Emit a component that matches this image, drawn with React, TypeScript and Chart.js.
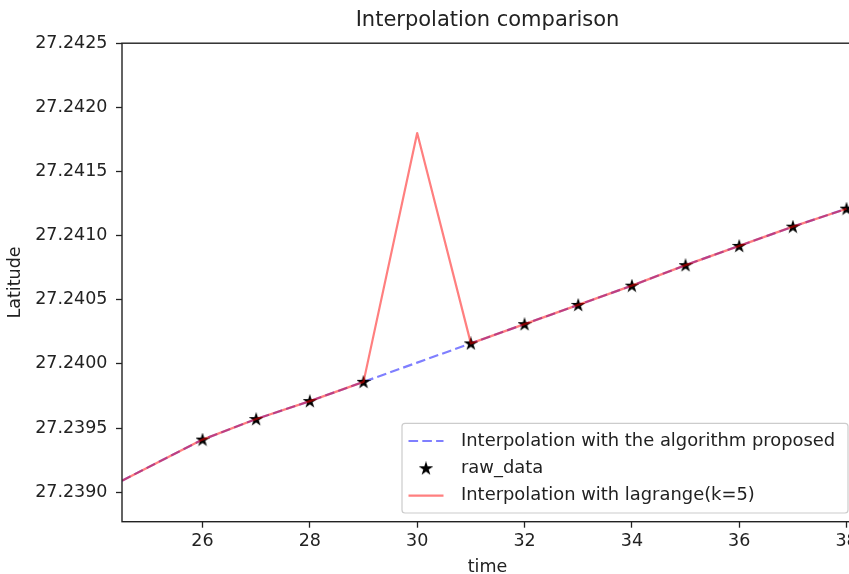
import React, { useEffect, useRef } from "react";
import { Chart, registerables } from "chart.js";

Chart.register(...registerables);

// ---- data ----
const lineTimes = [24.5, 26, 27, 28, 29, 30, 31, 32, 33, 34, 35, 36, 37, 38];
const proposedValues = [
  27.23909, 27.23941, 27.23957, 27.23971, 27.23986, 27.24001, 27.24016,
  27.24031, 27.24046, 27.24061, 27.24077, 27.24092, 27.24107, 27.24121,
];
const lagrangeValues = [
  27.23909, 27.23941, 27.23957, 27.23971, 27.23986, 27.2418, 27.24016,
  27.24031, 27.24046, 27.24061, 27.24077, 27.24092, 27.24107, 27.24121,
];
const rawTimes = [26, 27, 28, 29, 31, 32, 33, 34, 35, 36, 37, 38];
const rawValues = [
  27.23941, 27.23957, 27.23971, 27.23986, 27.24016, 27.24031, 27.24046,
  27.24061, 27.24077, 27.24092, 27.24107, 27.24121,
];
const xTicks = [26, 28, 30, 32, 34, 36, 38];
const yTicks = [27.239, 27.2395, 27.24, 27.2405, 27.241, 27.2415, 27.242, 27.2425];

const titleText = "Interpolation comparison";
const xLabel = "time";
const yLabel = "Latitude";
const labelProposed = "Interpolation with the algorithm proposed";
const labelRaw = "raw_data";
const labelLagrange = "Interpolation with lagrange(k=5)";

// ---- styling ----
const FONT = "'DejaVu Sans', sans-serif";
const TEXT = "#222";
const AXIS = "#222";
const W = 880;
const H = 600;
const BLUE = "rgba(0,0,255,0.5)";
const RED = "rgba(255,0,0,0.5)";
const DASH = [9.6, 4.2];

function makeStar(): HTMLCanvasElement {
  const c = document.createElement("canvas");
  c.width = 14;
  c.height = 14;
  const g = c.getContext("2d")!;
  const cx = 7, cy = 7.4, R = 5.2, r = R * 0.382;
  g.beginPath();
  for (let i = 0; i < 10; i++) {
    const ang = -Math.PI / 2 + (i * Math.PI) / 5;
    const rad = i % 2 === 0 ? R : r;
    const px = cx + rad * Math.cos(ang);
    const py = cy + rad * Math.sin(ang);
    if (i === 0) g.moveTo(px, py);
    else g.lineTo(px, py);
  }
  g.closePath();
  g.fillStyle = "#000";
  g.fill();
  g.lineWidth = 1.4;
  g.lineJoin = "miter";
  g.strokeStyle = "#000";
  g.stroke();
  return c;
}

export default function App() {
  const ref = useRef<HTMLCanvasElement | null>(null);

  useEffect(() => {
    if (!ref.current) return;
    const star = makeStar();

    const framePlugin = {
      id: "mplFrame",
      afterDatasetsDraw(chart: any) {
        const { ctx, chartArea: a } = chart;
        ctx.save();
        ctx.strokeStyle = AXIS;
        ctx.lineWidth = 1.4;
        ctx.strokeRect(a.left, a.top, a.right - a.left, a.bottom - a.top);
        ctx.restore();
      },
    };

    const legendPlugin = {
      id: "mplLegend",
      afterDraw(chart: any) {
        const ctx = chart.ctx as CanvasRenderingContext2D;
        ctx.save();
        const bx = 402, by = 423.3, bw = 446, bh = 89.7;
        ctx.beginPath();
        (ctx as any).roundRect(bx, by, bw, bh, 3);
        ctx.fillStyle = "rgba(255,255,255,0.8)";
        ctx.fill();
        ctx.strokeStyle = "#cccccc";
        ctx.lineWidth = 1.2;
        ctx.stroke();

        const rows = [441, 468.3, 495.7];
        const hx0 = 408.5, hx1 = 443.5, tx = 461;
        // row 1: blue dashed
        ctx.beginPath();
        ctx.setLineDash(DASH);
        ctx.strokeStyle = BLUE;
        ctx.lineWidth = 2.2;
        ctx.moveTo(hx0, rows[0]);
        ctx.lineTo(hx1, rows[0]);
        ctx.stroke();
        ctx.setLineDash([]);
        // row 2: star
        ctx.drawImage(star, (hx0 + hx1) / 2 - 7, rows[1] - 7);
        // row 3: red line
        ctx.beginPath();
        ctx.strokeStyle = RED;
        ctx.lineWidth = 2.2;
        ctx.moveTo(hx0, rows[2]);
        ctx.lineTo(hx1, rows[2]);
        ctx.stroke();

        ctx.fillStyle = TEXT;
        ctx.font = `17.9px ${FONT}`;
        ctx.textBaseline = "middle";
        ctx.textAlign = "left";
        const labels = [
          chart.data.datasets[0].label,
          chart.data.datasets[1].label,
          chart.data.datasets[2].label,
        ];
        labels.forEach((t: string, i: number) => ctx.fillText(t, tx, rows[i]));
        ctx.restore();
      },
    };

    const chart = new Chart(ref.current, {
      type: "scatter",
      data: {
        datasets: [
          {
            label: labelProposed,
            data: lineTimes.map((t, i) => ({ x: t, y: proposedValues[i] })),
            showLine: true,
            borderColor: BLUE,
            borderWidth: 2.2,
            borderDash: DASH,
            pointRadius: 0,
            order: 3,
          },
          {
            label: labelRaw,
            data: rawTimes.map((t, i) => ({ x: t, y: rawValues[i] })),
            showLine: false,
            pointStyle: star as any,
            pointRadius: 5,
            backgroundColor: "#000",
            borderColor: "#000",
            order: 2,
          },
          {
            label: labelLagrange,
            data: lineTimes.map((t, i) => ({ x: t, y: lagrangeValues[i] })),
            showLine: true,
            borderColor: RED,
            borderWidth: 2.2,
            borderJoinStyle: "round",
            pointRadius: 0,
            order: 1,
          },
        ],
      },
      options: {
        animation: false,
        responsive: false,
        devicePixelRatio: 1,
        events: [],
        layout: { padding: { left: 0, right: W - 853, top: 0, bottom: 0 } },
        plugins: {
          legend: { display: false },
          tooltip: { enabled: false },
          title: {
            display: true,
            text: titleText,
            fullSize: false,
            color: TEXT,
            font: { family: FONT, size: 21, weight: "normal" as any },
            padding: { top: 8, bottom: 10 },
          },
        },
        scales: {
          x: {
            type: "linear",
            min: 24.5,
            max: 38.12,
            afterBuildTicks: (s: any) => {
              s.ticks = xTicks.map((v) => ({ value: v }));
            },
            afterFit: (s: any) => {
              s.height = H - 521.7;
            },
            ticks: {
              color: TEXT,
              font: { family: FONT, size: 17.5 },
              padding: 3,
              maxRotation: 0,
              autoSkip: false,
              callback: (v: any) => String(v),
            },
            grid: {
              drawOnChartArea: false,
              drawTicks: true,
              tickLength: 6,
              tickWidth: 1.3,
              tickColor: AXIS,
            },
            border: { display: false },
            title: {
              display: true,
              text: xLabel,
              color: TEXT,
              font: { family: FONT, size: 17.5 },
              padding: { top: 0, bottom: 22 },
            },
          },
          y: {
            type: "linear",
            min: 27.23877,
            max: 27.2425,
            afterBuildTicks: (s: any) => {
              s.ticks = yTicks.map((v) => ({ value: v }));
            },
            afterFit: (s: any) => {
              s.width = 122;
            },
            ticks: {
              color: TEXT,
              font: { family: FONT, size: 17.5 },
              padding: 8.5,
              autoSkip: false,
              callback: (v: any) => Number(v).toFixed(4),
            },
            grid: {
              drawOnChartArea: false,
              drawTicks: true,
              tickLength: 6,
              tickWidth: 1.3,
              tickColor: AXIS,
            },
            border: { display: false },
            title: {
              display: true,
              text: yLabel,
              color: TEXT,
              font: { family: FONT, size: 17.5 },
              padding: { top: 4.5, bottom: 0 },
            },
          },
        },
      },
      plugins: [framePlugin, legendPlugin],
    } as any);

    return () => chart.destroy();
  }, []);

  return (
    <div
      style={{
        position: "fixed",
        left: 0,
        top: 0,
        width: 849,
        height: 574,
        overflow: "hidden",
        background: "#fff",
      }}
    >
      <canvas
        ref={ref}
        width={W}
        height={H}
        style={{ display: "block", width: W, height: H }}
      />
    </div>
  );
}
